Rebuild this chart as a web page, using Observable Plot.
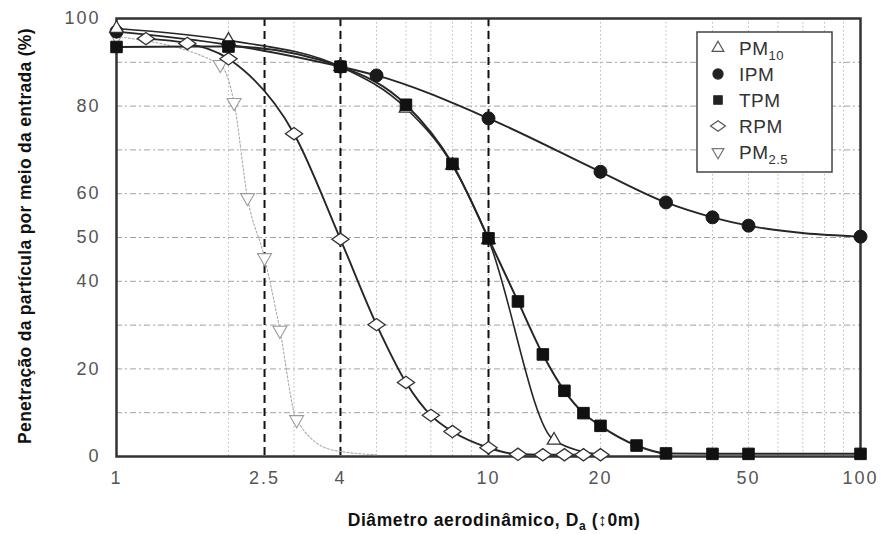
<!DOCTYPE html>
<html>
<head>
<meta charset="utf-8">
<script src="https://cdn.jsdelivr.net/npm/d3@7"></script>
<script src="https://cdn.jsdelivr.net/npm/@observablehq/plot@0.6"></script>
<style>
  html, body { margin: 0; padding: 0; background: #fff; }
  #chart { width: 888px; height: 534px; }
</style>
</head>
<body>
<div id="chart"></div>
<script>
// Penetration (%) against aerodynamic diameter (µm) for each sampling convention
const ipmD   = [1, 2, 4, 5, 10, 20, 30, 40, 50, 100];
const ipmPct = [97, 94, 89, 87, 77.2, 65, 58, 54.6, 52.7, 50.2];

const tpmD   = [1, 2, 4, 6, 8, 10, 12, 14, 16, 18, 20, 25, 30, 40, 50, 100];
const tpmPct = [93.5, 93.6, 89, 80.3, 66.8, 49.8, 35.4, 23.3, 15, 9.9, 7, 2.5, 0.7, 0.6, 0.6, 0.6];

const pm10D   = [1, 2, 4, 6, 8, 10, 15];
const pm10Pct = [97.7, 95, 89, 79.5, 66.5, 49.5, 3.7];
// where the PM10 curve runs on past its last symbol
const pm10TailD   = [20];
const pm10TailPct = [0.4];

const rpmD   = [1.2, 1.55, 2, 3, 4, 5, 6, 7, 8, 10, 12, 14, 16, 18, 20];
const rpmPct = [95.4, 94.3, 90.8, 73.7, 49.6, 30.1, 16.9, 9.4, 5.7, 2, 0.5, 0.4, 0.4, 0.4, 0.4];

const pm25D   = [1, 1.9, 2.07, 2.25, 2.5, 2.75, 3.05];
const pm25Pct = [95.9, 89.5, 80.8, 59.1, 45.4, 28.8, 8.4];
// where the PM2.5 curve runs on past its last symbol
const pm25TailD   = [3.8, 5];
const pm25TailPct = [1.5, 0.4];

// cut points marked with dashed lines
const cutD = [2.5, 4, 10];

// axis tick labels
const xTicks = [1, 2.5, 4, 10, 20, 50, 100];
const yTicks = [0, 20, 40, 50, 60, 80, 100];

const seriesNames = ["PM", "IPM", "TPM", "RPM", "PM"];
const seriesSubs  = ["10", "", "", "", "2.5"];

const rows = (ds, ps) => ds.map((d, i) => ({d, p: ps[i]}));
const ipm  = rows(ipmD, ipmPct);
const tpm  = rows(tpmD, tpmPct);
const pm10 = rows(pm10D, pm10Pct);
const rpm  = rows(rpmD, rpmPct);
const pm25 = rows(pm25D, pm25Pct);
const pm10Line = pm10.concat(rows(pm10TailD, pm10TailPct));
const pm25Line = pm25.concat(rows(pm25TailD, pm25TailPct));

const xGrid = d3.scaleLog().domain([1, 100]).ticks();
const yGrid = d3.range(0, 101, 10);

// rhombus wider than it is tall
const wideDiamond = {
  draw(ctx, size) {
    const h = Math.sqrt(size / 0.7);
    const hy = h / 2, hx = 0.7 * h;
    ctx.moveTo(-hx, 0);
    ctx.lineTo(0, -hy);
    ctx.lineTo(hx, 0);
    ctx.lineTo(0, hy);
    ctx.closePath();
  }
};

const font = '"Liberation Sans", Arial, Helvetica, sans-serif';
const ink = "#262626";
const xy = {x: "d", y: "p"};

const chart = Plot.plot({
  width: 888,
  height: 534,
  marginLeft: 116,
  marginRight: 28,
  marginTop: 18,
  marginBottom: 78,
  style: {fontFamily: font, background: "white", overflow: "visible"},
  x: {type: "log", domain: [1, 100]},
  y: {domain: [0, 100]},
  marks: [
    Plot.gridY({ticks: yGrid, stroke: "#8a8a8a", strokeOpacity: 1, strokeWidth: 0.8, strokeDasharray: "6,3,2,3"}),
    Plot.gridX({ticks: xGrid, stroke: "#b0b0b0", strokeOpacity: 1, strokeWidth: 0.9, strokeDasharray: "1.5,2.5"}),
    Plot.ruleX(cutD, {stroke: "#111", strokeWidth: 2, strokeDasharray: "8,5"}),
    Plot.frame({stroke: "#333", strokeWidth: 2.5}),
    Plot.axisX({ticks: xTicks, tickFormat: d => `${d}`, tickSize: 0, tickPadding: 15, fontSize: 18, fill: "#555", label: null}),
    Plot.axisY({ticks: yTicks, tickFormat: d => `${d}`, tickSize: 0, tickPadding: 16, fontSize: 18, fill: "#555", label: null}),
    Plot.line(pm25Line, {...xy, curve: "monotone-x", stroke: "#aaa", strokeWidth: 1.1, strokeDasharray: "2,2"}),
    Plot.line(rpm, {...xy, curve: "monotone-x", stroke: ink, strokeWidth: 1.9}),
    Plot.line(pm10Line, {...xy, curve: "monotone-x", stroke: ink, strokeWidth: 1.6}),
    Plot.line(tpm, {...xy, curve: "monotone-x", stroke: ink, strokeWidth: 2}),
    Plot.line(ipm, {...xy, curve: "monotone-x", stroke: ink, strokeWidth: 1.9}),
    Plot.dot(pm25, {...xy, symbol: "triangle", rotate: 180, r: 5.2, fill: "white", stroke: "#9a9a9a", strokeWidth: 1.1}),
    Plot.dot(rpm, {...xy, symbol: wideDiamond, r: 5.8, fill: "white", stroke: "#333", strokeWidth: 1.3}),
    Plot.dot(ipm, {...xy, symbol: "circle", r: 6.5, fill: "#1a1a1a", stroke: "#1a1a1a", strokeWidth: 1}),
    Plot.dot(pm10, {...xy, symbol: "triangle", r: 5, fill: "white", stroke: "#333", strokeWidth: 1.3}),
    Plot.dot(tpm, {...xy, symbol: "square", r: 6.5, fill: "#111", stroke: "#111", strokeWidth: 1})
  ]
});

document.getElementById("chart").appendChild(chart);
const svg = d3.select(chart);

// wider spacing on the tick numbers
svg.selectAll("[aria-label='x-axis tick label'] text, [aria-label='y-axis tick label'] text")
  .style("letter-spacing", "2px");

// axis titles
svg.append("text")
  .attr("transform", "translate(26,236) rotate(-90)")
  .attr("text-anchor", "middle")
  .attr("dominant-baseline", "middle")
  .style("font", `bold 17.5px ${font}`)
  .style("letter-spacing", "0.3px")
  .attr("fill", "#111")
  .text("Penetração da partícula por meio da entrada (%)");

const xt = svg.append("text")
  .attr("x", 494).attr("y", 526)
  .attr("text-anchor", "middle")
  .style("font", `bold 17.5px ${font}`)
  .style("letter-spacing", "0.6px")
  .attr("fill", "#111");
xt.append("tspan").text("Diâmetro aerodinâmico, D");
xt.append("tspan").attr("dy", 4).style("font-size", "12px").text("a");
xt.append("tspan").attr("dy", -4).text(" (↕0m)");

// legend
const lg = svg.append("g").attr("transform", "translate(697,32)");
lg.append("rect").attr("width", 135).attr("height", 140)
  .attr("fill", "white").attr("stroke", "#444").attr("stroke-width", 1.5);
const legendSymbols = [
  {sym: d3.symbolTriangle, size: 60, rot: 0, fill: "white", stroke: "#555"},
  {sym: d3.symbolCircle, size: 80, rot: 0, fill: "#222", stroke: "#222"},
  {sym: d3.symbolSquare, size: 70, rot: 0, fill: "#222", stroke: "#222"},
  {sym: wideDiamond, size: 80, rot: 0, fill: "white", stroke: "#555"},
  {sym: d3.symbolTriangle, size: 60, rot: 180, fill: "white", stroke: "#777"}
];
seriesNames.forEach((name, i) => {
  const cy = 16 + i * 26;
  const s = legendSymbols[i];
  lg.append("path")
    .attr("d", d3.symbol(s.sym, s.size)())
    .attr("transform", `translate(21,${cy}) rotate(${s.rot})`)
    .attr("fill", s.fill).attr("stroke", s.stroke).attr("stroke-width", 1.2);
  const t = lg.append("text")
    .attr("x", 42).attr("y", cy + 7)
    .attr("text-anchor", "start")
    .style("font", `19px ${font}`)
    .style("letter-spacing", "0.5px")
    .attr("fill", "#333");
  t.append("tspan").text(name);
  if (seriesSubs[i]) t.append("tspan").attr("dy", 5).style("font-size", "13px").text(seriesSubs[i]);
});
</script>
</body>
</html>
